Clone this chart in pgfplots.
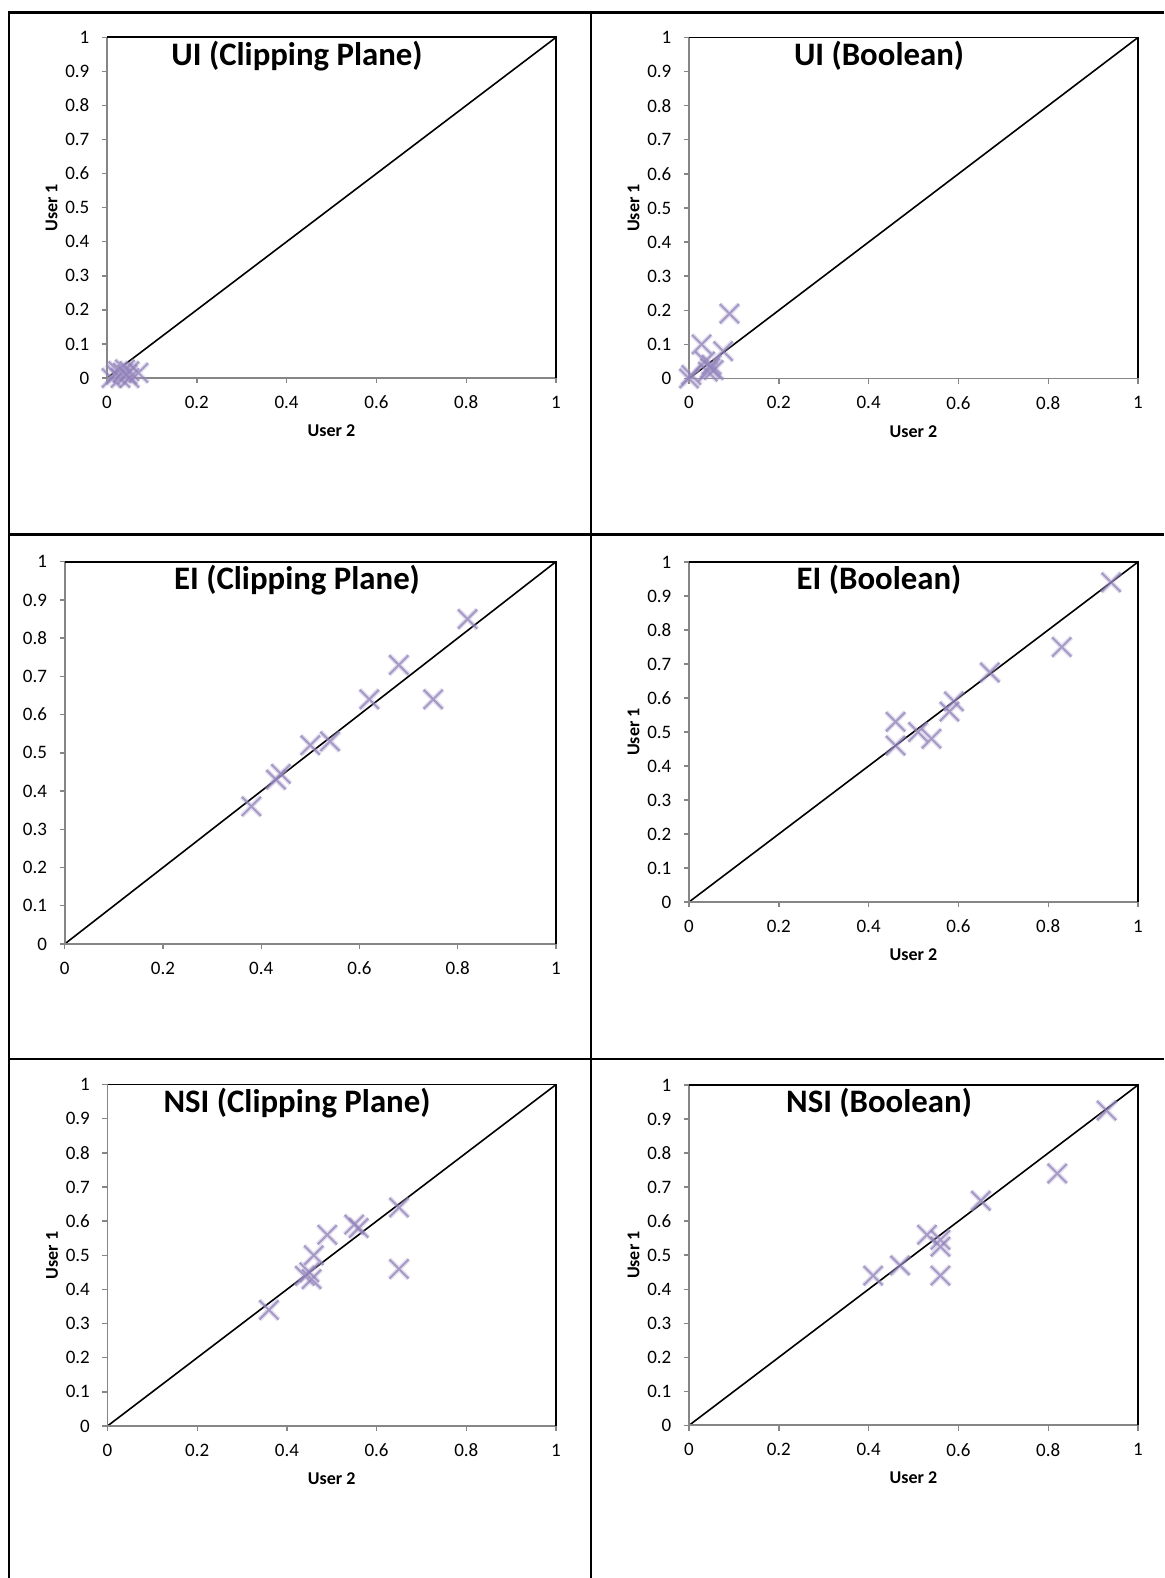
\documentclass[border=0pt]{standalone}
\usepackage{fontspec}
\setmainfont{Carlito}
\usepackage{pgfplots}
\pgfplotsset{compat=1.18}

\definecolor{axgray}{RGB}{134,134,134}
\definecolor{markc}{RGB}{140,124,182}
\definecolor{markl}{RGB}{175,163,208}

% soft-looking cross, as in the spreadsheet export
\pgfdeclareplotmark{softx}{%
  \pgfsetlinewidth{2.4pt}\pgfsetstrokecolor{markl}\pgfsetstrokeopacity{0.35}%
  \pgfpathmoveto{\pgfqpoint{-\pgfplotmarksize}{-\pgfplotmarksize}}%
  \pgfpathlineto{\pgfqpoint{\pgfplotmarksize}{\pgfplotmarksize}}%
  \pgfpathmoveto{\pgfqpoint{-\pgfplotmarksize}{\pgfplotmarksize}}%
  \pgfpathlineto{\pgfqpoint{\pgfplotmarksize}{-\pgfplotmarksize}}%
  \pgfusepathqstroke
  \pgfsetlinewidth{1.0pt}\pgfsetstrokecolor{markc}\pgfsetstrokeopacity{0.7}%
  \pgfpathmoveto{\pgfqpoint{-\pgfplotmarksize}{-\pgfplotmarksize}}%
  \pgfpathlineto{\pgfqpoint{\pgfplotmarksize}{\pgfplotmarksize}}%
  \pgfpathmoveto{\pgfqpoint{-\pgfplotmarksize}{\pgfplotmarksize}}%
  \pgfpathlineto{\pgfqpoint{\pgfplotmarksize}{-\pgfplotmarksize}}%
  \pgfusepathqstroke
}

\newcommand\frameit{%
  \draw[axgray,line width=0.9pt] (rel axis cs:0,1) -- (rel axis cs:0,0) -- (rel axis cs:1,0);
  \draw[black,line width=0.9pt] (rel axis cs:0,1) -- (rel axis cs:1,1) -- (rel axis cs:1,0);
}

\pgfplotsset{
  corr/.style={
    scale only axis,
    xmin=0, xmax=1, ymin=0, ymax=1,
    xtick={0,0.2,0.4,0.6,0.8,1},
    ytick={0,0.1,0.2,0.3,0.4,0.5,0.6,0.7,0.8,0.9,1},
    tick pos=left, tick align=outside,
    major tick length=2.6pt,
    tick style={axgray, line width=0.7pt},
    axis line style={draw=none},
    ticklabel style={font=\fontsize{9.5}{11}\selectfont},
    xticklabel style={yshift=-2.8pt},
    yticklabel style={xshift=-2.7pt},
    /pgf/number format/assume math mode=true,
    clip=false,
    every axis x label/.style={at={(axis description cs:0.5,-0.155)}, anchor=center,
      font=\bfseries\fontsize{9}{11}\selectfont},
    every axis y label/.style={at={(axis description cs:-0.1236,0.5)}, anchor=center, rotate=90,
      font=\bfseries\fontsize{9}{11}\selectfont},
  },
  pts/.style={only marks, mark=softx, mark size=4.8pt},
  diag/.style={black, line width=0.8pt, mark=none},
}
\tikzset{ttl/.style={anchor=base, font=\bfseries\fontsize{16.4}{18}\selectfont}}

\begin{document}
\begin{tikzpicture}
\useasboundingbox (0,0) rectangle (582pt,789pt);
\fill[white] (0,0) rectangle (582pt,789pt);

% cell borders
\draw[line width=1.2pt] (4.5pt,0) -- (4.5pt,782.8pt) -- (582pt,782.8pt);
\draw[line width=1.2pt] (295.5pt,0) -- (295.5pt,782.8pt);
\draw[line width=1.2pt] (4.5pt,521.75pt) -- (582pt,521.75pt);
\draw[line width=1.2pt] (4.5pt,259.5pt) -- (582pt,259.5pt);

% UI (Clipping Plane)
\begin{axis}[corr, at={(53.5pt,600pt)}, anchor=south west,
  width=224.5pt, height=170.3pt, xlabel={User 2}, ylabel={User 1}]
\addplot[pts] coordinates {
  (0.01,0.0) (0.02,0.01) (0.025,0.02) (0.03,0.0) (0.035,0.015)
  (0.04,0.025) (0.045,0.01) (0.05,0.02) (0.05,0.0) (0.07,0.015)
};
\addplot[diag] coordinates {(0,0) (1,1)};
\frameit
\end{axis}
\node[ttl] at (148.5pt,756.3pt) {UI (Clipping Plane)};

% UI (Boolean)
\begin{axis}[corr, at={(344.5pt,599.75pt)}, anchor=south west,
  width=224.5pt, height=170.5pt, xlabel={User 2}, ylabel={User 1}]
\addplot[pts] coordinates {
  (0.09,0.19) (0.028,0.10) (0.076,0.08) (0.036,0.05) (0.047,0.03)
  (0.042,0.02) (0.05,0.04) (0.0,0.0) (0.005,0.01) (0.055,0.025)
};
\addplot[diag] coordinates {(0,0) (1,1)};
\frameit
\end{axis}
\node[ttl] at (439.5pt,756.3pt) {UI (Boolean)};

% EI (Clipping Plane)
\begin{axis}[corr, at={(32.35pt,317pt)}, anchor=south west,
  width=245.65pt, height=191.15pt]
\addplot[pts] coordinates {
  (0.82,0.85) (0.68,0.73) (0.75,0.64) (0.62,0.64) (0.50,0.52)
  (0.54,0.53) (0.43,0.43) (0.44,0.445) (0.38,0.36)
};
\addplot[diag] coordinates {(0,0) (1,1)};
\frameit
\end{axis}
\node[ttl] at (148.5pt,494pt) {EI (Clipping Plane)};

% EI (Boolean)
\begin{axis}[corr, at={(344.5pt,338pt)}, anchor=south west,
  width=224.5pt, height=170pt, xlabel={User 2}, ylabel={User 1}]
\addplot[pts] coordinates {
  (0.94,0.94) (0.83,0.75) (0.67,0.675) (0.59,0.59) (0.58,0.56)
  (0.46,0.53) (0.46,0.46) (0.51,0.50) (0.54,0.48)
};
\addplot[diag] coordinates {(0,0) (1,1)};
\frameit
\end{axis}
\node[ttl] at (439.5pt,494.4pt) {EI (Boolean)};

% NSI (Clipping Plane)
\begin{axis}[corr, at={(53.75pt,76pt)}, anchor=south west,
  width=224.25pt, height=170.7pt, xlabel={User 2}, ylabel={User 1}]
\addplot[pts] coordinates {
  (0.65,0.64) (0.65,0.46) (0.55,0.59) (0.56,0.58) (0.49,0.56)
  (0.46,0.50) (0.44,0.44) (0.455,0.43) (0.45,0.45) (0.36,0.34)
};
\addplot[diag] coordinates {(0,0) (1,1)};
\frameit
\end{axis}
\node[ttl] at (148.5pt,232.5pt) {NSI (Clipping Plane)};

% NSI (Boolean)
\begin{axis}[corr, at={(344.5pt,76.3pt)}, anchor=south west,
  width=224.5pt, height=170.2pt, xlabel={User 2}, ylabel={User 1}]
\addplot[pts] coordinates {
  (0.93,0.925) (0.82,0.74) (0.65,0.66) (0.53,0.56) (0.56,0.545)
  (0.56,0.525) (0.56,0.44) (0.47,0.47) (0.41,0.44)
};
\addplot[diag] coordinates {(0,0) (1,1)};
\frameit
\end{axis}
\node[ttl] at (439.5pt,232.5pt) {NSI (Boolean)};
\end{tikzpicture}
\end{document}
